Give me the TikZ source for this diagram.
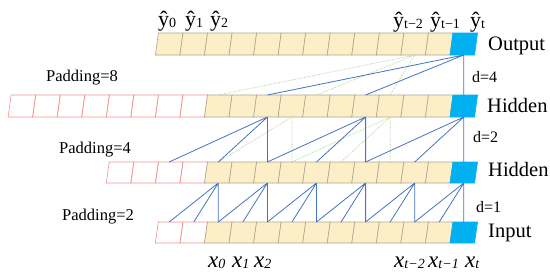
\documentclass[tikz,border=0pt]{standalone}
\usepackage{fontspec}
\setmainfont{Liberation Serif}
\usepackage{tikz}
\usetikzlibrary{arrows.meta,positioning}
\definecolor{cellyellow}{RGB}{252,239,199}
\definecolor{celledge}{RGB}{170,166,145}
\definecolor{padred}{RGB}{242,145,145}
\definecolor{lastblue}{RGB}{0,176,240}
\definecolor{linkblue}{RGB}{68,114,196}
\definecolor{linkgreen}{RGB}{169,209,142}
\tikzset{
  cellbox/.style={draw=celledge,fill=cellyellow,line width=0.6pt},
  padbox/.style={draw=padred,line width=0.6pt},
  lastbox/.style={draw=lastblue,fill=lastblue,line width=0.6pt},
  conn/.style={linkblue,line width=0.8pt},
  ghost/.style={linkgreen,densely dotted,line width=0.7pt},
  rowlbl/.style={anchor=base west,inner sep=0pt,font=\fontsize{20.5}{22}\selectfont},
  padlbl/.style={anchor=base west,inner sep=0pt,font=\fontsize{16.5}{18}\selectfont},
  dlbl/.style={anchor=base west,inner sep=0pt,font=\fontsize{16}{18}\selectfont},
  ylbl/.style={anchor=base west,inner sep=0pt,font=\fontsize{22}{24}\selectfont},
  xlbl/.style={anchor=base west,inner sep=0pt,font=\fontsize{23}{26}\selectfont\itshape}
}
\newcommand{\lowidx}[1]{\raisebox{-1.5pt}{\fontsize{14}{14}\selectfont #1}}
% #1 name, #2 top, #3 bottom, #4 first column, #5 first yellow column
\newcommand{\cellrow}[5]{%
  \foreach \c in {#4,...,17}{
    \ifnum\c<#5\relax\tikzset{kind/.style=padbox}\else\tikzset{kind/.style=cellbox}\fi
    \draw[kind] ({8.1+24.55*\c},#3) -- ++(24.55,0) -- ({35.65+24.55*\c},#2) -- ({11.1+24.55*\c},#2) -- cycle;
  }
  \draw[lastbox] (450,#3) -- ++(24.55,0) -- (477.55,#2) -- (453,#2) -- cycle;
  \foreach \c in {#4,...,18}{
    \coordinate (#1-\c-t) at ({21.9+24.55*\c},#2);
    \coordinate (#1-\c-b) at ({21.9+24.55*\c},#3);
  }}

\begin{document}
\begin{tikzpicture}[x=1pt,y=-1pt,>=Latex]
  \useasboundingbox (0,0) rectangle (550,277);
  \cellrow{out}{33}{55}{6}{6}
  \cellrow{hida}{95}{117}{0}{8}
  \cellrow{hidb}{162}{183}{4}{8}
  \cellrow{inp}{222}{243}{6}{8}

  \draw[ghost] (hida-11-b) -- (hidb-8-t) (hida-11-b) -- (hidb-11-t);
  \draw[ghost] (hida-15-b) -- (hidb-11-t) (hida-15-b) -- (hidb-13-t) (hida-15-b) -- (hidb-15-t);
  \draw[ghost] (out-16-b) -- (hida-8-t) (out-16-b) -- (hida-12-t) (out-16-b) -- (hida-15-t);

  \foreach \j in {8,10,...,18}{
    \pgfmathtruncatemacro{\a}{\j-2}
    \pgfmathtruncatemacro{\b}{\j-1}
    \draw[conn] (hidb-\j-b) -- (inp-\a-t) (hidb-\j-b) -- (inp-\b-t) (hidb-\j-b) -- (inp-\j-t);
  }
  \foreach \k in {10,14,18}{
    \pgfmathtruncatemacro{\a}{\k-4}
    \pgfmathtruncatemacro{\b}{\k-2}
    \draw[conn] (hida-\k-b) -- (hidb-\a-t) (hida-\k-b) -- (hidb-\b-t) (hida-\k-b) -- (hidb-\k-t);
  }
  \draw[conn] (out-18-b) -- (hida-10-t) (out-18-b) -- (hida-14-t) (out-18-b) -- (hida-18-t);

  \node[ylbl] (yh0) at (158,26) {ŷ\lowidx{0}};
  \node[ylbl] (yh1) at (185,26) {ŷ\lowidx{1}};
  \node[ylbl] (yh2) at (210,26) {ŷ\lowidx{2}};
  \node[ylbl] (yhtb) at (393,27) {ŷ\lowidx{t−2}};
  \node[ylbl] (yhta) at (430,27) {ŷ\lowidx{t−1}};
  \node[ylbl] (yht) at (470,27) {ŷ\lowidx{t}};

  \node[rowlbl] (lblout) at (488,50) {Output};
  \node[rowlbl] (lblhida) at (487,112) {Hidden};
  \node[rowlbl] (lblhidb) at (488,176) {Hidden};
  \node[rowlbl] (lblinp) at (488,237) {Input};

  \node[dlbl] (d4) at (472,82) {d=4};
  \node[dlbl] (d2) at (473,142) {d=2};
  \node[dlbl] (d1) at (476,212) {d=1};

  \node[padlbl] (pad8) at (46,81) {Padding=8};
  \node[padlbl] (pad4) at (59,153) {Padding=4};
  \node[padlbl] (pad2) at (62,220) {Padding=2};

  \node[xlbl] (x0) at (208,267) {x\lowidx{0}};
  \node[xlbl] (x1) at (232,267) {x\lowidx{1}};
  \node[xlbl] (x2) at (254,267) {x\lowidx{2}};
  \node[xlbl] (xtb) at (394,267) {x\lowidx{t−2}};
  \node[xlbl] (xta) at (428,267) {x\lowidx{t−1}};
  \node[xlbl] (xt) at (465,267) {x\lowidx{t}};
\end{tikzpicture}
\end{document}
